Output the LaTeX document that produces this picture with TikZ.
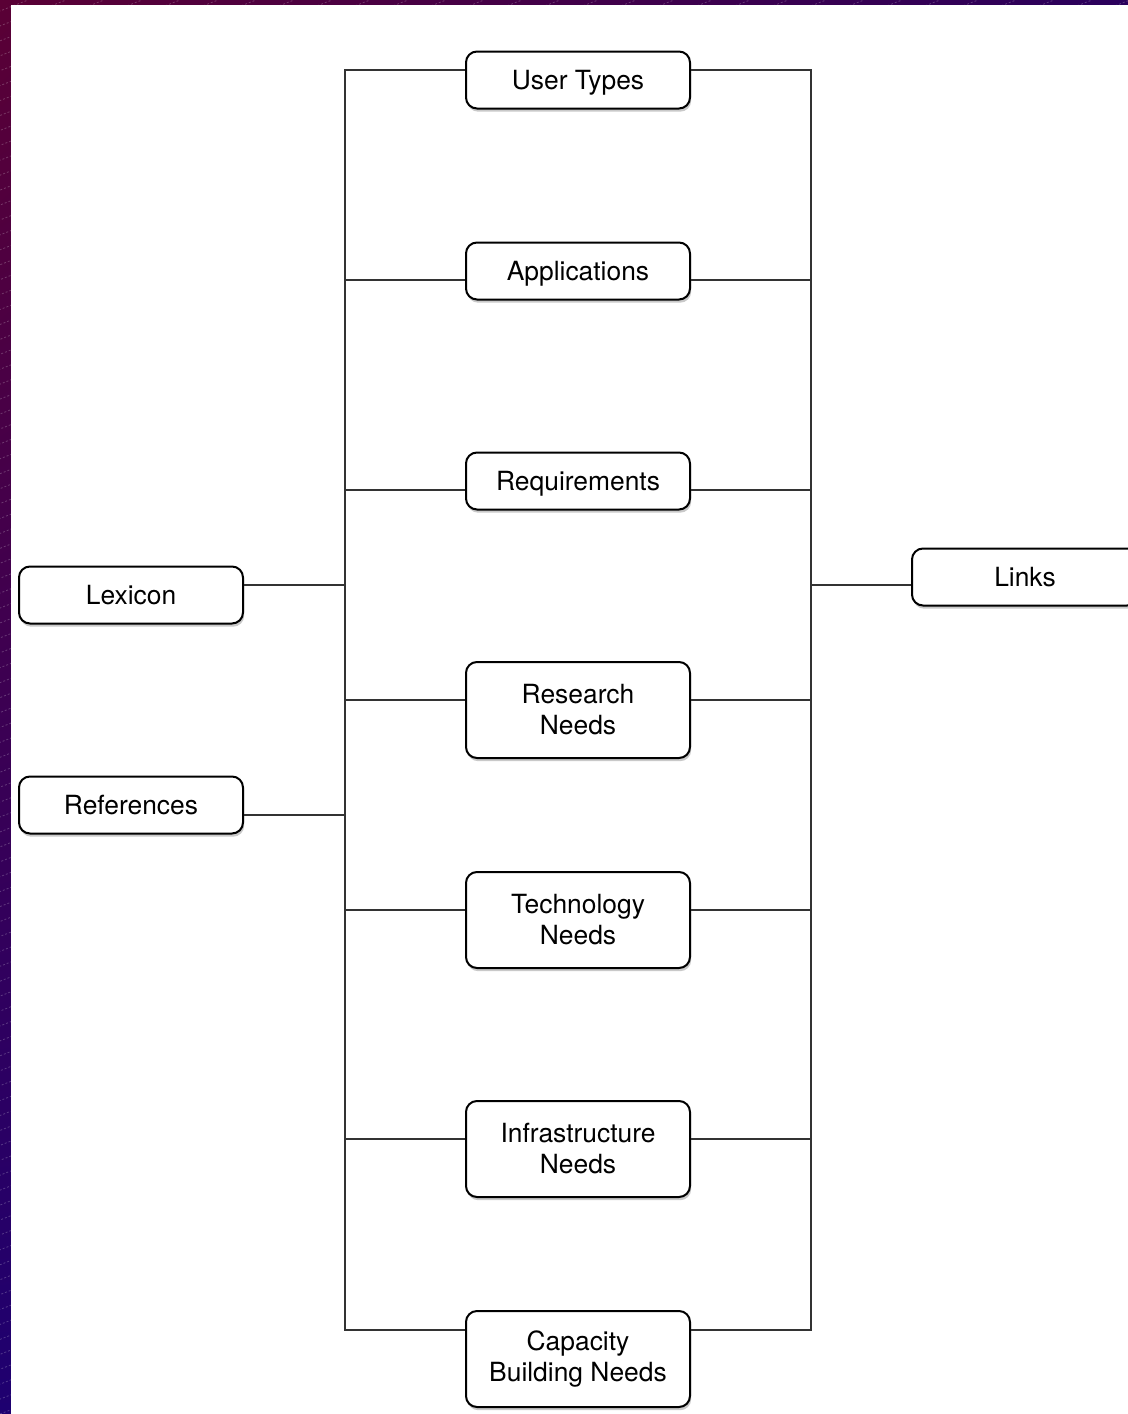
\documentclass[tikz,border=0pt]{standalone}
\usepackage{fontspec}
\setmainfont{TeX Gyre Heros}
\usetikzlibrary{shadows,calc,shadings}
\definecolor{bdrA}{HTML}{5A0035}
\definecolor{bdrB}{HTML}{2A005C}
\definecolor{bdrC}{HTML}{1E0070}
\definecolor{linec}{HTML}{333333}
\tikzset{
  basebox/.style={draw=black, line width=1pt, rounded corners=5.5pt, fill=white,
    minimum width=112pt, minimum height=28.5pt, inner sep=0pt, align=center,
    font=\fontsize{13.2}{15.5}\selectfont,
    drop shadow={shadow xshift=0.6pt, shadow yshift=-1.6pt, opacity=0.35, fill=black!60}},
  box/.style={basebox, text height=12pt, text depth=3pt},
  tallbox/.style={basebox, minimum height=48pt},
  bus/.style={draw=linec, line width=0.8pt},
}
\begin{document}
\begin{tikzpicture}[x=0.5pt,y=-0.5pt]
\useasboundingbox (0,0) rectangle (1128,1414);
% border
\shade[upper left=bdrA, upper right=bdrB, lower left=bdrC, lower right=bdrC]
  (0,0) rectangle (1128,1414);
\begin{scope}
  \clip (0,0) rectangle (1128,1414);
  \foreach \k in {-100,...,30} {
    \draw[white, opacity=0.22, line width=0.4pt, dash pattern=on 1pt off 1pt]
      (\k*38,1414) -- ++(3600,-1414);
  }
\end{scope}
\fill[white] (11,5) rectangle (1128,1414);

% nodes
\node[box] (ut) at (578,80) {User Types};
\node[box] (ap) at (578,271) {Applications};
\node[box] (rq) at (578,481) {Requirements};
\node[tallbox] (rn) at (578,710) {Research\\Needs};
\node[tallbox] (tn) at (578,920) {Technology\\Needs};
\node[tallbox] (in) at (578,1149) {Infrastructure\\Needs};
\node[tallbox] (cb) at (578,1359) {Capacity\\Building Needs};
\node[box] (lx) at (131,595) {Lexicon};
\node[box] (rf) at (131,805) {References};
\node[box, minimum width=113pt] (lk) at (1025,577) {Links};

% bus coordinates
\coordinate (L1) at (345,70);
\coordinate (L2) at (345,280);
\coordinate (L3) at (345,490);
\coordinate (L4) at (345,700);
\coordinate (L5) at (345,910);
\coordinate (L6) at (345,1139);
\coordinate (L7) at (345,1330);
\coordinate (LX) at (345,585);
\coordinate (LR) at (345,815);
\coordinate (R1) at (811,70);
\coordinate (R2) at (811,280);
\coordinate (R3) at (811,490);
\coordinate (R4) at (811,700);
\coordinate (R5) at (811,910);
\coordinate (R6) at (811,1139);
\coordinate (R7) at (811,1330);
\coordinate (RL) at (811,585);

% connectors
\draw[bus] (ut.west |- L1) -- (L1) -- (L7) -- (cb.west |- L7);
\draw[bus] (ut.east |- R1) -- (R1) -- (R7) -- (cb.east |- R7);
\draw[bus] (ap.west |- L2) -- (L2);
\draw[bus] (rq.west |- L3) -- (L3);
\draw[bus] (rn.west |- L4) -- (L4);
\draw[bus] (tn.west |- L5) -- (L5);
\draw[bus] (in.west |- L6) -- (L6);
\draw[bus] (ap.east |- R2) -- (R2);
\draw[bus] (rq.east |- R3) -- (R3);
\draw[bus] (rn.east |- R4) -- (R4);
\draw[bus] (tn.east |- R5) -- (R5);
\draw[bus] (in.east |- R6) -- (R6);
\draw[bus] (lx.east |- LX) -- (LX);
\draw[bus] (rf.east |- LR) -- (LR);
\draw[bus] (lk.west |- RL) -- (RL);
\end{tikzpicture}
\end{document}
